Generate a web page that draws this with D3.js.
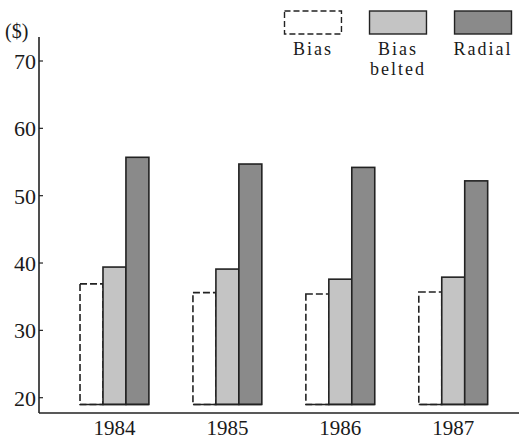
<!DOCTYPE html>
<html>
<head>
<meta charset="utf-8">
<script src="https://cdn.jsdelivr.net/npm/d3@7"></script>
<style>
  body { margin: 0; background: #fff; }
  text { font-family: 'Liberation Serif', 'DejaVu Serif', serif; fill: #1a1a1a; }
</style>
</head>
<body>
<script>
// Data
const years = ['1984', '1985', '1986', '1987'];
const series = ['Bias', 'Bias belted', 'Radial'];
const bias = [36.9, 35.6, 35.4, 35.7];
const biasBelted = [39.4, 39.1, 37.6, 37.9];
const radial = [55.7, 54.7, 54.2, 52.2];
const yTicks = [20, 30, 40, 50, 60, 70];
const baseValue = 19;

const seriesValues = [bias, biasBelted, radial];
const rows = years.map((year, i) => ({
  year: year,
  values: series.map((s, j) => ({ key: s, value: seriesValues[j][i] })),
}));

// SVG Canvas
const width = 519;
const height = 439;
const axisX = 39;
const axisY = 413;

const fills = { 'Bias': '#ffffff', 'Bias belted': '#c4c4c4', 'Radial': '#8a8a8a' };

const svg = d3.select('body')
  .append('svg')
    .attr('width', width)
    .attr('height', height);

// Scales
const y = d3.scaleLinear()
  .domain([20, 70])
  .range([397.7, 61]);

const x = d3.scaleBand()
  .domain(years)
  .range([58, 509.7])
  .paddingInner(0.39)
  .paddingOuter(0.195);

const xInner = d3.scaleBand()
  .domain(series)
  .range([0, x.bandwidth()]);

// Bars
const groups = svg.selectAll('g.year')
    .data(rows)
  .enter().append('g')
    .attr('class', 'year')
    .attr('transform', (d) => `translate(${x(d.year)},0)`);

groups.selectAll('rect')
    .data((d) => d.values)
  .enter().append('rect')
    .attr('x', (d) => xInner(d.key))
    .attr('y', (d) => y(d.value))
    .attr('width', xInner.bandwidth())
    .attr('height', (d) => y(baseValue) - y(d.value))
    .attr('fill', (d) => fills[d.key])
    .attr('stroke', '#222')
    .attr('stroke-width', 1.6)
    .attr('stroke-dasharray', (d) => d.key === 'Bias' ? '7,3' : null);

// solid bottom edge under each group
groups.append('line')
    .attr('x1', 0)
    .attr('x2', x.bandwidth())
    .attr('y1', y(baseValue))
    .attr('y2', y(baseValue))
    .attr('stroke', '#222')
    .attr('stroke-width', 1.6);

// Axes
svg.append('line')
    .attr('x1', axisX).attr('y1', 37)
    .attr('x2', axisX).attr('y2', axisY)
    .attr('stroke', '#222')
    .attr('stroke-width', 1.6);

svg.append('line')
    .attr('x1', axisX).attr('y1', axisY)
    .attr('x2', width).attr('y2', axisY)
    .attr('stroke', '#222')
    .attr('stroke-width', 1.6);

svg.selectAll('line.tick')
    .data(yTicks)
  .enter().append('line')
    .attr('class', 'tick')
    .attr('x1', axisX)
    .attr('x2', axisX + 4)
    .attr('y1', (d) => y(d))
    .attr('y2', (d) => y(d))
    .attr('stroke', '#222')
    .attr('stroke-width', 1.2);

svg.selectAll('text.ytick')
    .data(yTicks)
  .enter().append('text')
    .attr('class', 'ytick')
    .attr('x', axisX - 3)
    .attr('y', (d) => y(d) + 8)
    .attr('text-anchor', 'end')
    .attr('font-size', 22)
    .text((d) => d);

svg.append('text')
    .attr('x', 5)
    .attr('y', 38)
    .attr('font-size', 20)
    .text('($)');

svg.selectAll('text.xtick')
    .data(years)
  .enter().append('text')
    .attr('class', 'xtick')
    .attr('x', (d) => x(d) + x.bandwidth() / 2)
    .attr('y', 435)
    .attr('text-anchor', 'middle')
    .attr('font-size', 21)
    .text((d) => d);

// Legend
const legendX = d3.scaleBand()
  .domain(series)
  .range([284.5, 511.5])
  .paddingInner(0.33);

const legend = svg.selectAll('g.legend')
    .data(series)
  .enter().append('g')
    .attr('class', 'legend')
    .attr('transform', (d) => `translate(${legendX(d)},11)`);

legend.append('rect')
    .attr('width', legendX.bandwidth())
    .attr('height', 23)
    .attr('fill', (d) => fills[d])
    .attr('stroke', '#222')
    .attr('stroke-width', 1.4)
    .attr('stroke-dasharray', (d) => d === 'Bias' ? '6,3' : null);

legend.each(function(d) {
  const words = d.split(' ');
  d3.select(this).selectAll('text')
      .data(words)
    .enter().append('text')
      .attr('x', legendX.bandwidth() / 2)
      .attr('y', (w, i) => 44 + i * 20)
      .attr('text-anchor', 'middle')
      .attr('font-size', 18)
      .attr('letter-spacing', 2)
      .text((w) => w);
});
</script>
</body>
</html>
